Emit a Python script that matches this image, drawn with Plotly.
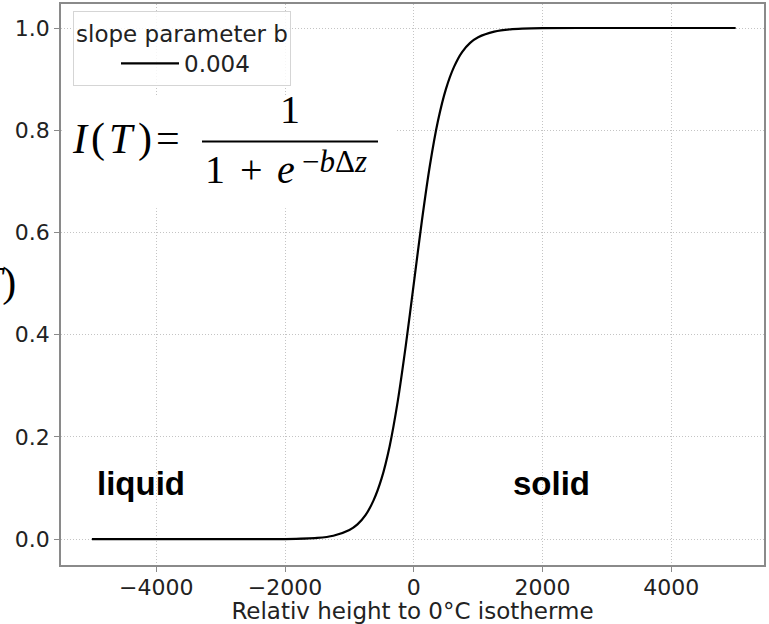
import plotly.graph_objects as go

# values
height_rel = [-5000, -3000, -2000, -1500, -1250, -1000, -875, -750, -625, -500, -375,
              -250, -125, 0, 125, 250, 375, 500, 625, 750, 875, 1000, 1250, 1500,
              2000, 3000, 5000]
ice_frac = [0.000, 0.000, 0.0003, 0.0025, 0.0067, 0.018, 0.029, 0.047, 0.076, 0.119,
            0.182, 0.269, 0.378, 0.500, 0.622, 0.731, 0.818, 0.881, 0.924, 0.953,
            0.971, 0.982, 0.993, 0.9975, 0.9997, 1.000, 1.000]
series_name = "0.004"
x_ticks = [-4000, -2000, 0, 2000, 4000]
y_ticks = [0.0, 0.2, 0.4, 0.6, 0.8, 1.0]
phase_labels = ["liquid", "solid"]
phase_x = [-4241, 2136]
phase_y = [0.109, 0.109]

W_FIG, H_FIG = 769, 624
PL, PR, PT, PB = 61, 764, 2, 565
W, H = PR - PL, PB - PT


def px(x):
    return (x - PL) / W


def py(y):
    return (PB - y) / H


SANS = "DejaVu Sans"
SERIF = "Liberation Serif"
GRID = "#c4c4c4"
GRID_DASH = "1px,2px"
SPINE = "#8a8a8a"

fig = go.Figure()
fig.add_trace(go.Scatter(
    x=height_rel, y=ice_frac, mode="lines", name=series_name,
    line=dict(color="black", width=2.2, shape="spline", smoothing=0.7),
))

ann = []


def txt(t, x, y, size, anchor="center", family=SERIF):
    ann.append(dict(text=t, x=px(x), y=py(y), xref="paper", yref="paper",
                    xanchor=anchor, yanchor="middle", showarrow=False,
                    font=dict(family=family, size=size, color="black")))


# y-axis label (partly cut at the left edge, as in the reference)
txt("<i>I</i>(<i>T</i>)", 18, 281, 42, anchor="right")
# formula  I(T) = 1 / (1 + e^{-b dz})
txt("<i>I</i>", 80, 137, 42)
txt("(", 98, 137, 42)
txt("<i>T</i>", 122, 137, 42)
txt(")", 145, 137, 42)
txt("=", 168, 136, 42)
txt("1", 290, 108, 40)
txt("1", 215, 168, 40)
txt("+", 251, 168, 40)
txt("<i>e</i>", 286, 168, 40)
txt("−<i>b</i>Δ<i>z</i>", 334, 160, 31)

# phase labels
for t, xx, yy in zip(phase_labels, phase_x, phase_y):
    ann.append(dict(text=f"<b>{t}</b>", x=xx, y=yy, xref="x", yref="y",
                    xanchor="center", yanchor="middle", showarrow=False,
                    font=dict(family="Liberation Sans", size=33, color="black")))

shapes = [
    dict(type="rect", xref="paper", yref="paper", x0=px(62.5), x1=px(397), y0=py(207), y1=py(95),
         fillcolor="white", line=dict(width=0), layer="above"),
    dict(type="line", xref="paper", yref="paper", x0=px(202), x1=px(378), y0=py(140), y1=py(140),
         line=dict(color="black", width=2.2), layer="above"),
]

fig.update_layout(
    width=W_FIG, height=H_FIG,
    margin=dict(l=PL, r=W_FIG - PR, t=PT, b=H_FIG - PB, pad=0),
    paper_bgcolor="white", plot_bgcolor="white",
    font=dict(family=SANS, size=22, color="#222222"),
    showlegend=True,
    legend=dict(
        title=dict(text="slope parameter b", side="top center", font=dict(size=23, family=SANS)),
        font=dict(size=23, family=SANS),
        indentation=42, itemwidth=58,
        x=px(73), y=py(9), xanchor="left", yanchor="top",
        bgcolor="rgba(255,255,255,0.85)", bordercolor="#d5d5d5", borderwidth=1,
    ),
    annotations=ann,
    shapes=shapes,
)
fig.update_xaxes(
    range=[-5480, 5440], tickvals=x_ticks, showgrid=True, gridcolor=GRID, griddash=GRID_DASH,
    gridwidth=1, zeroline=False, showline=True, linecolor=SPINE, linewidth=1.5, mirror=True,
    ticks="outside", ticklen=5, tickcolor=SPINE, tickfont=dict(size=22, color="#222222"),
    ticklabelstandoff=-3,
    title=dict(text="Relativ height to 0°C isotherme", font=dict(size=23, color="#222222"), standoff=2),
)
fig.update_yaxes(
    range=[-0.0505, 1.047], tickvals=y_ticks, tickformat=".1f", showgrid=True, gridcolor=GRID,
    griddash=GRID_DASH, gridwidth=1, zeroline=False, showline=True, linecolor=SPINE, linewidth=1.5,
    mirror=True, ticks="outside", ticklen=5, tickcolor=SPINE, tickfont=dict(size=22, color="#222222"),
)

fig.write_html("out.html")
